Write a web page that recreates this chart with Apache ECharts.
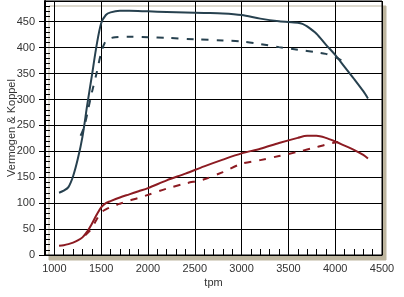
<!DOCTYPE html>
<html>
<head>
<meta charset="utf-8">
<script src="https://cdn.jsdelivr.net/npm/echarts@6/dist/echarts.min.js"></script>
<style>
html,body{margin:0;padding:0;background:#fff;}
#c{width:404px;height:297px;}
</style>
</head>
<body>
<div id="c"></div>
<script>
// ---- data ----
const xTickLabels = [1000, 1500, 2000, 2500, 3000, 3500, 4000, 4500];

const topSolidRpm = [1050,1100,1150,1200,1250,1300,1350,1400,1450,1500,1550,1600,1700,1800,2000,2200,2400,2600,2800,3000,3200,3400,3600,3650,3700,3800,3900,4000,4100,4200,4300,4350];
const topSolidVal = [120,124,131,152,185,228,288,345,403,447,463,468,471,471,470,469,468,467,466,463,456,451,448,446,441,427,406,386,363,340,316,302];

const topDashRpm = [1280,1320,1360,1400,1450,1500,1540,1580,1650,1800,2000,2200,2500,2800,3000,3200,3400,3600,3800,3900,4000,4080];
const topDashVal = [230,248,280,313,350,390,410,417,420,421,420,419,416,414,412,407,401,396,391,388,382,374];

const lowSolidRpm = [1050,1100,1150,1200,1250,1300,1350,1400,1450,1500,1550,1600,1700,1800,1900,2000,2200,2400,2600,2800,3000,3200,3400,3600,3700,3800,3900,4000,4100,4200,4300,4350];
const lowSolidVal = [18,19,21,24,28,34,45,60,77,92,100,104,111,117,123,129,144,157,171,184,196,205,216,226,230,230,226,219,211,203,193,186];

const lowDashRpm = [1330,1370,1400,1450,1500,1550,1600,1700,1800,1900,2000,2200,2400,2600,2800,3000,3200,3400,3600,3800,3900,4000,4030];
const lowDashVal = [38,45,52,68,82,88,92,99,105,110,116,128,138,146,160,176,183,191,199,208,213,217,218];

const zip = (xs, ys) => xs.map((x, i) => [x, ys[i]]);

const TEAL = '#27414f';
const RED = '#8c1b22';
const FONT = '"Liberation Sans", Arial, sans-serif';
const plain = v => String(v);

const chart = echarts.init(document.getElementById('c'), null, {renderer: 'canvas'});
chart.setOption({
  animation: false,
  backgroundColor: '#fff',
  grid: {
    left: 45, right: 22, top: 1, bottom: 42,
    outerBoundsMode: 'none', containLabel: false,
    show: true, backgroundColor: '#fff', borderColor: '#000', borderWidth: 1,
    shadowColor: '#bdb59f', shadowBlur: 0, shadowOffsetX: 4, shadowOffsetY: 5
  },
  xAxis: [{
    type: 'value', min: 900, max: 4500, position: 'bottom',
    name: 'tpm', nameLocation: 'middle', nameGap: 22, nameMoveOverlap: false,
    nameTextStyle: {color: '#333', fontSize: 11, fontFamily: FONT},
    axisLine: {show: true, lineStyle: {color: '#000', width: 1}},
    axisTick: {show: false, customValues: xTickLabels},
    axisLabel: {customValues: xTickLabels, formatter: plain, color: '#333', fontSize: 11, fontFamily: FONT, margin: 8},
    splitLine: {show: true, lineStyle: {color: '#000', width: 1}}
  }, {
    type: 'value', min: 900, max: 4500, interval: 100, position: 'bottom', offset: 0,
    axisLine: {show: false},
    axisTick: {show: true, inside: true, length: 6, lineStyle: {color: '#000', width: 1}},
    axisLabel: {show: false},
    splitLine: {show: false}
  }],
  yAxis: [{
    type: 'value', min: 0, max: 490, interval: 50, position: 'left',
    name: 'Vermogen & Koppel', nameLocation: 'middle', nameGap: 28, nameRotate: 90, nameMoveOverlap: false,
    nameTextStyle: {color: '#333', fontSize: 11, fontFamily: FONT},
    axisLine: {show: true, lineStyle: {color: '#000', width: 2}},
    axisTick: {show: true, inside: false, length: 6, lineStyle: {color: '#000', width: 1}},
    axisLabel: {formatter: plain, color: '#333', fontSize: 11, fontFamily: FONT, margin: 10, showMaxLabel: false},
    splitLine: {show: true, lineStyle: {color: '#000', width: 1}}
  }, {
    type: 'value', min: 0, max: 490, interval: 10, position: 'left', offset: 0,
    axisLine: {show: false},
    axisTick: {show: true, inside: true, length: 5, lineStyle: {color: '#000', width: 1}},
    axisLabel: {show: false},
    splitLine: {show: false}
  }],
  series: [
    {type: 'line', data: zip(topSolidRpm, topSolidVal), showSymbol: false, smooth: 0.3,
     lineStyle: {color: TEAL, width: 2}},
    {type: 'line', data: zip(topDashRpm, topDashVal), showSymbol: false, smooth: 0.3,
     lineStyle: {color: TEAL, width: 2, type: [7, 8]}},
    {type: 'line', data: zip(lowSolidRpm, lowSolidVal), showSymbol: false, smooth: 0.3,
     lineStyle: {color: RED, width: 2}},
    {type: 'line', data: zip(lowDashRpm, lowDashVal), showSymbol: false, smooth: 0.3,
     lineStyle: {color: RED, width: 2, type: [7, 8]}}
  ]
});
</script>
</body>
</html>
